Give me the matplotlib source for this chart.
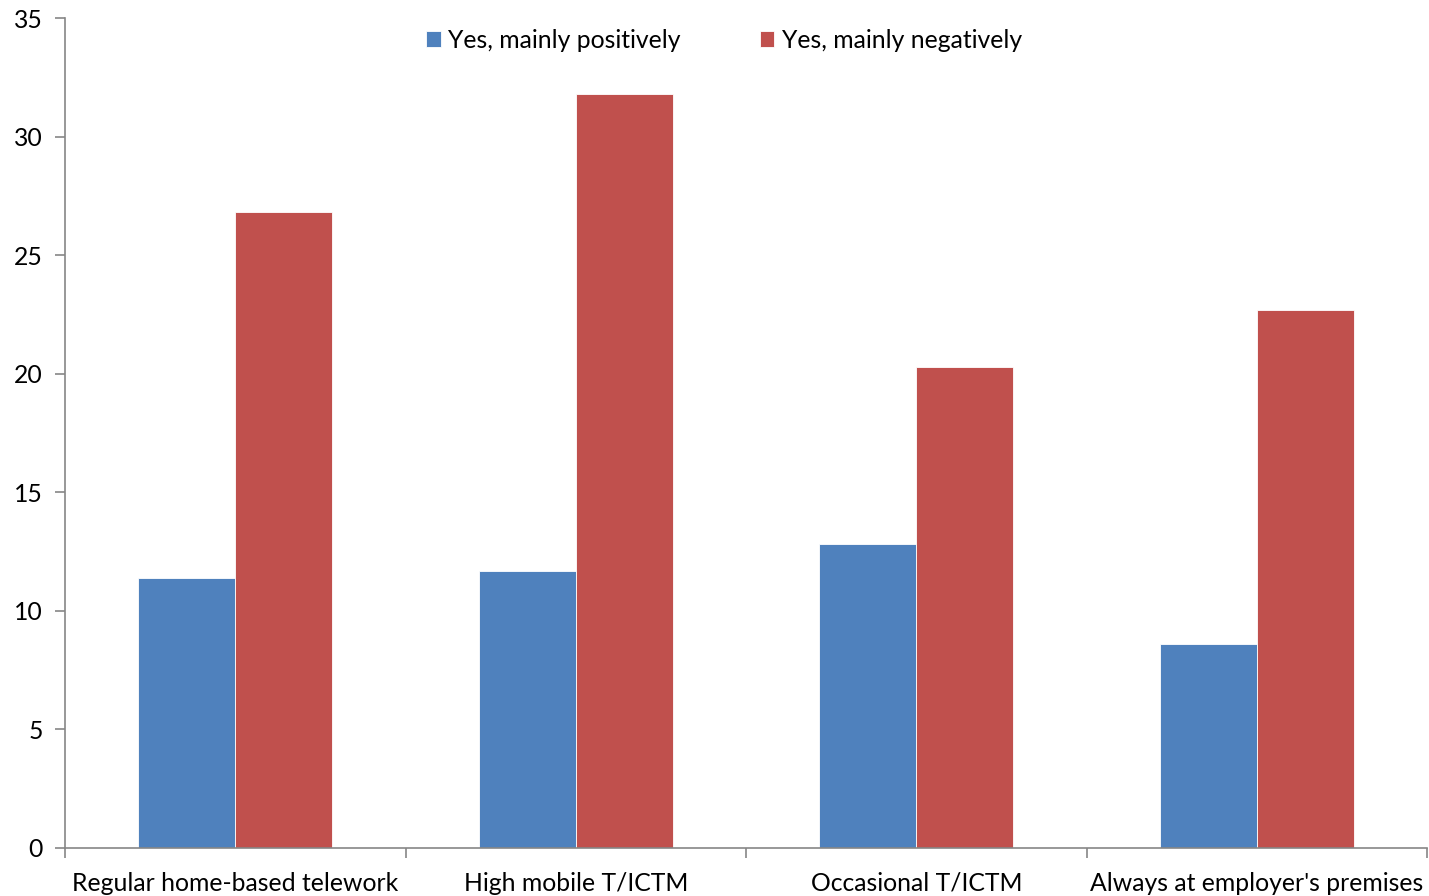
import matplotlib
matplotlib.use("Agg")
import matplotlib.pyplot as plt
import numpy as np

categories = ["Regular home-based telework", "High mobile T/ICTM",
              "Occasional T/ICTM", "Always at employer's premises"]
series_names = ["Yes, mainly positively", "Yes, mainly negatively"]
positive = [11.4, 11.7, 12.8, 8.6]
negative = [26.8, 31.8, 20.3, 22.7]
y_ticks = [0, 5, 10, 15, 20, 25, 30, 35]

blue = "#4F81BD"
red = "#C0504D"
axis_grey = "#868686"

plt.rcParams["font.family"] = ["Lato", "DejaVu Sans"]
fs = 17.8

fig = plt.figure(figsize=(14.29, 8.96), dpi=100)
ax = fig.add_axes([0.0455, 0.0536, 0.9531, 0.9263])

x = np.arange(len(categories))
w = 0.285
ax.bar(x - w / 2, positive, width=w, color=blue, edgecolor="white",
       linewidth=0.6, label=series_names[0])
ax.bar(x + w / 2, negative, width=w, color=red, edgecolor="white",
       linewidth=0.6, label=series_names[1])

ax.set_xlim(-0.5, len(categories) - 0.5)
ax.set_ylim(0, 35)
ax.set_yticks(y_ticks)
ax.set_yticklabels([str(t) for t in y_ticks], fontsize=fs)

# category labels centred, tick marks at category boundaries
ax.set_xticks(np.arange(len(categories) + 1) - 0.5)
ax.set_xticklabels([])
ax.set_xticks(x, minor=True)
ax.set_xticklabels(categories, minor=True, fontsize=fs)
ax.tick_params(axis="x", which="minor", length=0, pad=17)
ax.tick_params(axis="x", which="major", length=7, color=axis_grey, width=1.2)
ax.tick_params(axis="y", length=7, color=axis_grey, width=1.2, pad=9)

for s in ["top", "right"]:
    ax.spines[s].set_visible(False)
for s in ["left", "bottom"]:
    ax.spines[s].set_color(axis_grey)
    ax.spines[s].set_linewidth(1.2)

ax.legend(loc="upper center", bbox_to_anchor=(0.5065, 0.993),
          bbox_transform=fig.transFigure, ncol=2, frameon=False,
          fontsize=fs, handlelength=0.6, handleheight=0.6,
          handletextpad=0.3, columnspacing=3.2)

fig.savefig("out.png", dpi=100)
